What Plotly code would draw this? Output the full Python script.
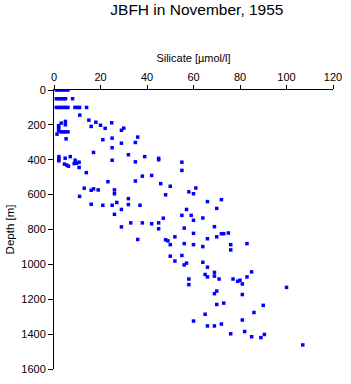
import plotly.graph_objects as go

# Silicate [µmol/l] and depth [m]
silicate = [
    1, 2, 3, 4, 5, 6,
    1, 2, 3, 4, 5, 8,
    1, 2, 3, 4, 5, 6, 9, 10, 11, 14,
    11.1, 15, 18, 24.8, 3.1, 4.9, 4.9, 16, 20, 22, 30, 29,
    2, 2, 2, 2, 3, 4, 5, 6, 1.3, 5.2, 21, 25, 35, 29, 25, 36,
    17, 32, 2.1, 2.1, 4.8, 7, 39, 45, 45, 25, 2.1, 35, 9.1, 10.8,
    4.5, 5.5, 6.2, 8.7, 9.7, 10.8, 13.9, 38, 42, 55, 55,
    23.2, 35, 45.9, 50, 13, 17, 19, 16, 26, 26, 48, 11, 32, 27,
    16, 21, 25, 32, 37, 29, 26, 47, 33, 38, 42, 45, 29, 45,
    36, 48, 49, 50, 52, 50, 52,
    61, 58, 60, 66, 72, 70, 57, 59, 55, 60, 64, 56, 69, 60, 72, 73,
    75, 66, 70, 56, 60, 64, 76, 83, 76, 55,
    56, 57, 64, 66, 69, 65, 66, 69, 71, 58, 58, 77, 79, 80, 81, 83,
    85, 70, 69, 81, 70, 73, 90, 86, 65, 60, 81, 72, 66, 69, 82, 76,
    85, 89, 90.5, 100, 107,
]
depth = [
    0, 0, 0, 0, 0, 0,
    50, 50, 50, 50, 50, 50,
    100, 100, 100, 100, 100, 100, 100, 100, 100, 100,
    144, 173, 185, 188, 190, 180, 199, 209, 202, 220, 219, 231,
    205, 215, 225, 235, 240, 240, 240, 240, 253, 280, 285, 276, 301, 305, 331, 270,
    358, 371, 382, 394, 391, 382, 382, 392, 400, 403, 406, 412, 403, 414,
    425, 431, 437, 422, 420, 444, 474, 494, 490, 414, 461,
    526, 522, 537, 552, 563, 567, 573, 575, 573, 595, 601, 610, 623, 645,
    655, 661, 661, 657, 661, 685, 713, 735, 762, 762, 767, 762, 785, 796,
    857, 859, 865, 887, 842, 953, 981,
    562, 584, 595, 640, 629, 679, 685, 719, 719, 747, 734, 792, 784, 822, 824, 824,
    820, 853, 842, 881, 887, 898, 887, 881, 917, 949,
    1003, 993, 988, 1016, 1046, 1058, 1072, 1067, 1084, 1084, 1116, 1084, 1097, 1091, 1112, 1072,
    1043, 1153, 1168, 1173, 1230, 1222, 1235, 1276, 1286, 1325, 1319, 1342, 1353, 1353, 1385, 1398,
    1415, 1420, 1402, 1132, 1462,
]

title_text = "JBFH in November, 1955"
x_title = "Silicate [µmol/l]"
y_title = "Depth [m]"

font_family = "Liberation Sans, Arial, Helvetica, sans-serif"

fig = go.Figure()
fig.add_trace(go.Scatter(
    x=silicate, y=depth, mode="markers",
    marker=dict(symbol="square", size=3.5, color="#0000ff", line=dict(width=0)),
    showlegend=False,
))

fig.update_layout(
    width=351, height=384,
    margin=dict(l=54, r=11, t=90, b=9),
    paper_bgcolor="white", plot_bgcolor="white",
    font=dict(family=font_family, size=10, color="black"),
    title=dict(text=title_text, x=0.561, xanchor="center", y=0.974, yanchor="middle",
               font=dict(size=15.5, color="black")),
    xaxis=dict(
        side="top", range=[0, 120], dtick=20, tick0=0,
        showline=True, linecolor="black", linewidth=1,
        ticks="outside", ticklen=4, tickcolor="black",
        showgrid=False, zeroline=False,
        title=dict(text=x_title, font=dict(size=11), standoff=5),
        tickfont=dict(size=11),
    ),
    yaxis=dict(
        range=[1600, 0], dtick=200, tick0=0,
        showline=True, linecolor="black", linewidth=1,
        ticks="outside", ticklen=5, tickcolor="black",
        showgrid=False, zeroline=False,
        title=dict(text=y_title, font=dict(size=11.5), standoff=4),
        tickfont=dict(size=11),
    ),
)

fig.write_html("out.html")
